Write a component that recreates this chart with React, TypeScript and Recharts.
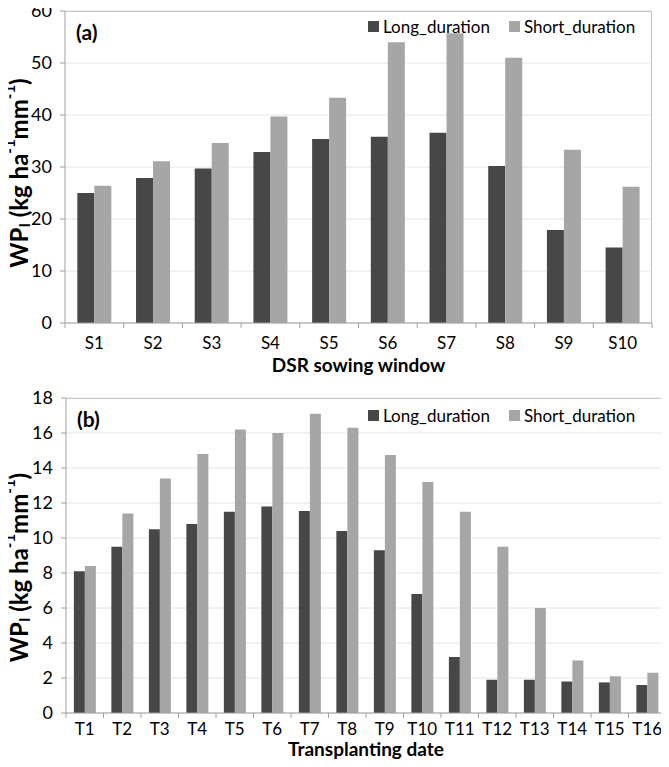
import { BarChart, Bar, CartesianGrid, Legend, XAxis, YAxis } from 'recharts';

const FONT = 'Lato, "Open Sans", sans-serif';
const DARK = '#474747';
const LIGHT = '#a6a6a6';
const AXIS = '#a0a0a0';
const GRID = '#e4e4e4';

// panel (a) - DSR sowing windows
const sowingWindows = ['S1', 'S2', 'S3', 'S4', 'S5', 'S6', 'S7', 'S8', 'S9', 'S10'];
const sowingLong = [25.0, 27.9, 29.7, 32.9, 35.4, 35.8, 36.6, 30.2, 17.9, 14.5];
const sowingShort = [26.4, 31.1, 34.6, 39.7, 43.3, 54.0, 55.7, 51.0, 33.3, 26.2];
const sowingTicks = [0, 10, 20, 30, 40, 50, 60];

// panel (b) - transplanting dates
const transplantDates = ['T1', 'T2', 'T3', 'T4', 'T5', 'T6', 'T7', 'T8', 'T9', 'T10', 'T11', 'T12', 'T13', 'T14', 'T15', 'T16'];
const transplantLong = [8.1, 9.5, 10.5, 10.8, 11.5, 11.8, 11.55, 10.4, 9.3, 6.8, 3.2, 1.9, 1.9, 1.8, 1.75, 1.6];
const transplantShort = [8.4, 11.4, 13.4, 14.8, 16.2, 16.0, 17.1, 16.3, 14.75, 13.2, 11.5, 9.5, 6.0, 3.0, 2.1, 2.3];
const transplantTicks = [0, 2, 4, 6, 8, 10, 12, 14, 16, 18];

const seriesNames = ['Long_duration', 'Short_duration'];

function CategoryTick(props: any) {
  const { x, payload, index, axisY, band, labelDy, count } = props;
  const left = x - band / 2;
  return (
    <g>
      <line x1={left} x2={left} y1={axisY} y2={axisY + 5} stroke={AXIS} />
      {index === count - 1 && (
        <line x1={x + band / 2} x2={x + band / 2} y1={axisY} y2={axisY + 5} stroke={AXIS} />
      )}
      <text x={x} y={axisY + labelDy} textAnchor="middle" fontFamily={FONT} fontSize={17} fill="#000">
        {payload.value}
      </text>
    </g>
  );
}

function ValueTick(props: any) {
  const { x, y, payload } = props;
  return (
    <text x={x} y={y + 6} textAnchor="end" fontFamily={FONT} fontSize={18} fill="#000">
      {payload.value}
    </text>
  );
}

function YTitle({ cx, cy }: { cx: number; cy: number }) {
  return (
    <text
      x={cx}
      y={cy}
      transform={`rotate(-90 ${cx} ${cy})`}
      textAnchor="middle"
      dominantBaseline="central"
      fontFamily={FONT}
      fontWeight={700}
      fontSize={24}
      fill="#000"
    >
      WP<tspan fontSize={15} dy={6}>I</tspan>
      <tspan dy={-6}> (kg ha</tspan>
      <tspan fontSize={15} dy={-9}>-1</tspan>
      <tspan dy={9}>mm</tspan>
      <tspan fontSize={15} dy={-9}>-1</tspan>
      <tspan dy={9}>)</tspan>
    </text>
  );
}

function LegendBox() {
  const item = (color: string, name: string, gap: number) => (
    <span style={{ display: 'inline-flex', alignItems: 'center', marginRight: gap }}>
      <span style={{ width: 11, height: 11, background: color, display: 'inline-block', marginRight: 4 }} />
      {name}
    </span>
  );
  return (
    <div style={{ fontFamily: FONT, fontSize: 17, color: '#000', lineHeight: '20px', whiteSpace: 'nowrap' }}>
      {item(DARK, seriesNames[0], 19)}
      {item(LIGHT, seriesNames[1], 0)}
    </div>
  );
}

type PanelProps = {
  categories: string[];
  longVals: number[];
  shortVals: number[];
  ticks: number[];
  width: number;
  height: number;
  margin: { top: number; right: number; left: number; bottom: number };
  yAxisWidth: number;
  xAxisHeight: number;
  xTitle: string;
  xTitleBaseline: number;
  labelDy: number;
  titleShift: number;
  legendTop: number;
  panel: string;
};

function Panel(p: PanelProps) {
  const data = p.categories.map((c, i) => ({ name: c, long: p.longVals[i], short: p.shortVals[i] }));
  const plotLeft = p.margin.left + p.yAxisWidth;
  const plotRight = p.width - p.margin.right;
  const plotTop = p.margin.top;
  const plotBottom = p.height - p.margin.bottom - p.xAxisHeight;
  const band = (plotRight - plotLeft) / p.categories.length;
  const top = p.ticks[p.ticks.length - 1];
  return (
    <div style={{ position: 'relative', width: p.width, height: p.height }}>
      <BarChart
        width={p.width}
        height={p.height}
        data={data}
        margin={p.margin}
        barCategoryGap="21%"
        barGap={0}
      >
        <CartesianGrid vertical={false} stroke={GRID} />
        <XAxis
          dataKey="name"
          interval={0}
          height={p.xAxisHeight}
          axisLine={{ stroke: AXIS }}
          tickLine={false}
          tick={(t: any) => (
            <CategoryTick {...t} axisY={plotBottom} band={band} labelDy={p.labelDy} count={p.categories.length} />
          )}
          label={{
            content: () => (
              <text
                x={(plotLeft + plotRight) / 2}
                y={p.xTitleBaseline}
                textAnchor="middle"
                fontFamily={FONT}
                fontWeight={700}
                fontSize={19}
                fill="#000"
              >
                {p.xTitle}
              </text>
            )
          }}
        />
        <YAxis
          width={p.yAxisWidth}
          domain={[0, top]}
          ticks={p.ticks}
          interval={0}
          axisLine={{ stroke: AXIS }}
          tickLine={{ stroke: AXIS }}
          tickSize={5}
          tickMargin={8}
          tick={(t: any) => <ValueTick {...t} />}
          label={{
            content: () => <YTitle cx={18} cy={(plotTop + plotBottom) / 2 + p.titleShift} />
          }}
        />
        <Legend
          layout="horizontal"
          align="center"
          verticalAlign="middle"
          content={() => <LegendBox />}
          wrapperStyle={{ top: p.legendTop, left: 368, width: 'auto', height: 'auto' }}
        />
        <Bar dataKey="long" name={seriesNames[0]} fill={DARK} isAnimationActive={false} />
        <Bar dataKey="short" name={seriesNames[1]} fill={LIGHT} isAnimationActive={false} />
      </BarChart>
      <div
        style={{
          position: 'absolute',
          left: plotLeft,
          top: plotTop,
          width: plotRight - plotLeft,
          height: plotBottom - plotTop,
          border: '1px solid #c4c4c4',
          borderLeft: 'none',
          borderBottom: 'none',
          boxSizing: 'border-box',
          pointerEvents: 'none'
        }}
      />
      <div
        style={{
          position: 'absolute',
          left: plotLeft + 11,
          top: plotTop + 9,
          fontFamily: FONT,
          fontWeight: 700,
          fontSize: 21,
          lineHeight: '24px',
          color: '#000'
        }}
      >
        {p.panel}
      </div>
    </div>
  );
}

export default function App() {
  return (
    <div style={{ position: 'relative', width: 669, height: 767, margin: -8, background: '#fff' }}>
      <div style={{ position: 'absolute', left: 0, top: 0 }}>
        <Panel
          categories={sowingWindows}
          longVals={sowingLong}
          shortVals={sowingShort}
          ticks={sowingTicks}
          width={669}
          height={378}
          margin={{ top: 11, right: 17, left: 0, bottom: 0 }}
          yAxisWidth={65}
          xAxisHeight={55}
          xTitle="DSR sowing window"
          xTitleBaseline={372}
          labelDy={26}
          titleShift={6}
          legendTop={16}
          panel="(a)"
        />
      </div>
      <div style={{ position: 'absolute', left: 0, top: 380 }}>
        <Panel
          categories={transplantDates}
          longVals={transplantLong}
          shortVals={transplantShort}
          ticks={transplantTicks}
          width={669}
          height={387}
          margin={{ top: 18, right: 3, left: 0, bottom: 0 }}
          yAxisWidth={66}
          xAxisHeight={54}
          xTitle="Transplanting date"
          xTitleBaseline={376}
          labelDy={22}
          titleShift={12}
          legendTop={25}
          panel="(b)"
        />
      </div>
    </div>
  );
}
